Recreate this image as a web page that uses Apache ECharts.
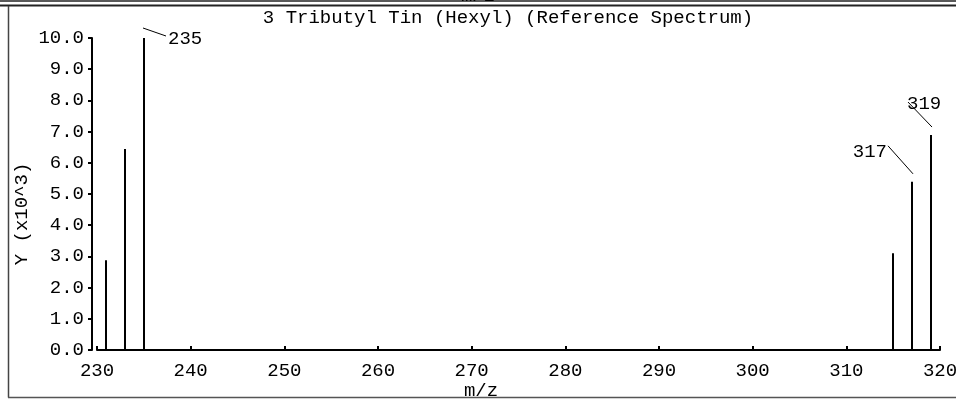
<!DOCTYPE html>
<html>
<head>
<meta charset="utf-8">
<script src="https://cdn.jsdelivr.net/npm/echarts@6/dist/echarts.min.js"></script>
<style>html,body{margin:0;padding:0;background:#fff;overflow:hidden}#c{width:956px;height:399px}</style>
</head>
<body>
<div id="c"></div>
<script>
var titleText = '3 Tributyl Tin (Hexyl) (Reference Spectrum)';
var xName = 'm/z';
var yName = 'Y (x10^3)';
var mz = [231, 233, 235, 315, 317, 319];
var intensity = [2.88, 6.44, 10.0, 3.1, 5.39, 6.89];
var labeledPeaks = [235, 317, 319];
var xMin = 230, xMax = 320, xStep = 10;
var yMin = 0, yMax = 10, yStep = 1;

var FONT = '"Liberation Mono", "DejaVu Sans Mono", monospace';
var FS = 19;

var peakData = mz.map(function (m, i) { return [m, intensity[i]]; });
var labelData = labeledPeaks.map(function (m) { return [m, intensity[mz.indexOf(m)]]; });

// label placement style (leader from/to offsets relative to peak top, text anchor)
var placement = {
  235: {l: [-1, -10, 22, -2], t: [24, 1], align: 'left'},
  317: {l: [-24, -36, 1, -8], t: [-25, -30], align: 'right'},
  319: {l: [-23, -33, 1, -8], t: [-24, -31], align: 'left'}
};

var chart = echarts.init(document.getElementById('c'), null, {renderer: 'canvas'});
chart.setOption({
  animation: false,
  backgroundColor: '#fff',
  grid: {left: 97, right: 16, top: 38, bottom: 49, containLabel: false, outerBoundsMode: 'none'},
  xAxis: {
    type: 'value', min: xMin, max: xMax, interval: xStep, offset: 5,
    axisLine: {show: true, lineStyle: {color: '#000', width: 2}},
    axisTick: {show: true, inside: true, length: 4, lineStyle: {color: '#000', width: 2}},
    axisLabel: {color: '#000', fontFamily: FONT, fontSize: FS, margin: 6},
    splitLine: {show: false}
  },
  yAxis: {
    type: 'value', min: yMin, max: yMax, interval: yStep, offset: 5,
    axisLine: {show: true, lineStyle: {color: '#000', width: 2}},
    axisTick: {show: true, length: 4, lineStyle: {color: '#000', width: 2}},
    axisLabel: {color: '#000', fontFamily: FONT, fontSize: FS, margin: 8,
      formatter: function (v) { return v.toFixed(1); }},
    splitLine: {show: false}
  },
  graphic: [
    {type: 'line', shape: {x1: 0, y1: 1, x2: 956, y2: 1}, style: {stroke: '#222', lineWidth: 1.5}},
    {type: 'line', shape: {x1: 0, y1: 5.5, x2: 956, y2: 5.5}, style: {stroke: '#222', lineWidth: 2}},
    {type: 'line', shape: {x1: 8.5, y1: 6, x2: 8.5, y2: 397.5}, style: {stroke: '#444', lineWidth: 1.5}},
    {type: 'line', shape: {x1: 8, y1: 397.5, x2: 956, y2: 397.5}, style: {stroke: '#555', lineWidth: 1.5}},
    {type: 'text', x: 478, y: -4, style: {text: xName, font: FS + 'px ' + FONT, fill: '#000', align: 'center', verticalAlign: 'middle'}},
    {type: 'text', x: 508, y: 18, style: {text: titleText, font: FS + 'px ' + FONT, fill: '#000', align: 'center', verticalAlign: 'middle'}},
    {type: 'text', x: 481, y: 391, style: {text: xName, font: FS + 'px ' + FONT, fill: '#000', align: 'center', verticalAlign: 'middle'}},
    {type: 'text', x: 22, y: 214, rotation: Math.PI / 2, style: {text: yName, font: FS + 'px ' + FONT, fill: '#000', align: 'center', verticalAlign: 'middle'}}
  ],
  series: [
    {
      type: 'custom', data: peakData, clip: false,
      renderItem: function (params, api) {
        var top = api.coord([api.value(0), api.value(1)]);
        var base = api.coord([api.value(0), 0]);
        var x = Math.round(top[0]);
        return {type: 'line', shape: {x1: x, y1: base[1], x2: x, y2: top[1]},
          style: {stroke: '#000', lineWidth: 2}};
      }
    },
    {
      type: 'custom', data: labelData, clip: false,
      renderItem: function (params, api) {
        var m = api.value(0);
        var top = api.coord([m, api.value(1)]);
        var px = Math.round(top[0]), py = top[1];
        var p = placement[m];
        return {type: 'group', children: [
          {type: 'line', shape: {x1: px + p.l[0], y1: py + p.l[1], x2: px + p.l[2], y2: py + p.l[3]},
            style: {stroke: '#000', lineWidth: 1}},
          {type: 'text', x: px + p.t[0], y: py + p.t[1],
            style: {text: String(m), font: FS + 'px ' + FONT, fill: '#000', align: p.align, verticalAlign: 'middle'}}
        ]};
      }
    }
  ]
});
</script>
</body>
</html>
